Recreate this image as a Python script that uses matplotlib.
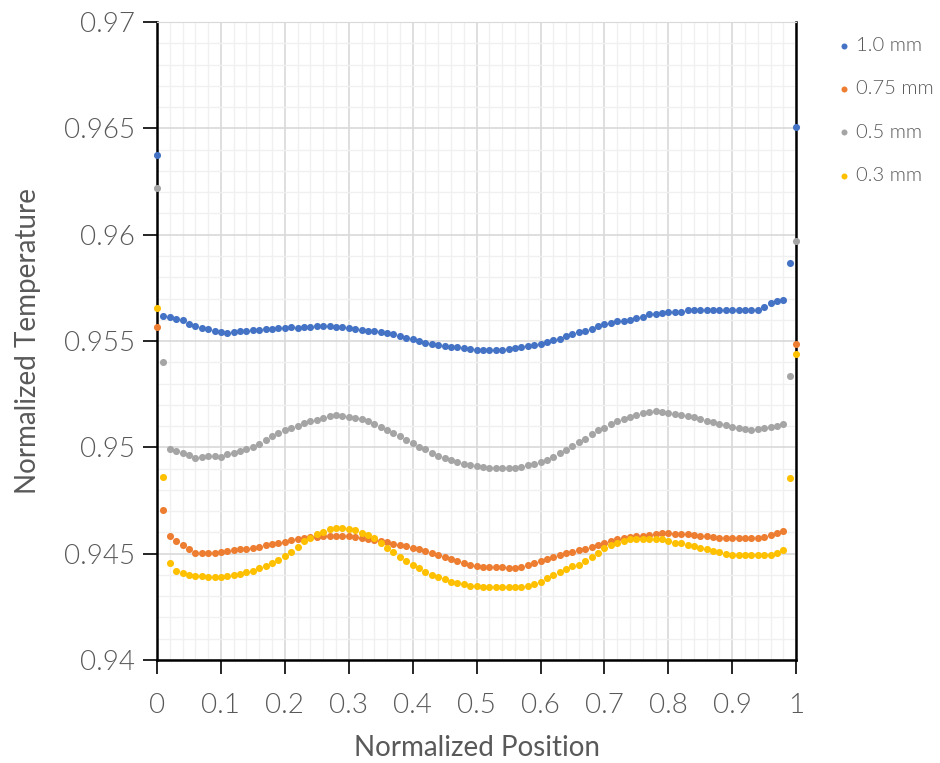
import numpy as np
import matplotlib.pyplot as plt
from matplotlib.ticker import MultipleLocator, FuncFormatter

# normalized position along the sample, 0 .. 1 in steps of 0.01
position = np.arange(101) / 100

temp_10mm = [
    0.96374,
    0.95620, 0.95613, 0.95605, 0.95597, 0.95580, 0.95570, 0.95563, 0.95556, 0.95549, 0.95543,
    0.95540, 0.95542, 0.95547, 0.95548, 0.95550, 0.95554, 0.95556, 0.95558, 0.95561, 0.95563,
    0.95565, 0.95563, 0.95564, 0.95568, 0.95570, 0.95571, 0.95571, 0.95568, 0.95564, 0.95561,
    0.95556, 0.95553, 0.95548, 0.95546, 0.95541, 0.95538, 0.95531, 0.95524, 0.95515, 0.95508,
    0.95500, 0.95493, 0.95486, 0.95481, 0.95477, 0.95473, 0.95470, 0.95466, 0.95464,
    0.95458, 0.95456, 0.95456, 0.95456, 0.95456, 0.95462, 0.95466, 0.95470, 0.95476, 0.95481,
    0.95487, 0.95495, 0.95503, 0.95510, 0.95522, 0.95534, 0.95541, 0.95549, 0.95558, 0.95571,
    0.95580, 0.95586, 0.95593, 0.95596, 0.95601, 0.95607, 0.95615, 0.95625, 0.95629, 0.95632,
    0.95637, 0.95637, 0.95636, 0.95645, 0.95645, 0.95645, 0.95645, 0.95645, 0.95645, 0.95645,
    0.95645, 0.95645, 0.95645, 0.95645, 0.95645, 0.95662, 0.95677, 0.95687, 0.95692,
    0.95865, 0.96505,
]

temp_075mm = [
    0.95565,
    0.94706, 0.94585, 0.94561, 0.94542, 0.94523, 0.94505, 0.94503, 0.94503, 0.94505, 0.94509,
    0.94512, 0.94517, 0.94521, 0.94523, 0.94526, 0.94532, 0.94540, 0.94546, 0.94549, 0.94556,
    0.94564, 0.94569, 0.94574, 0.94577, 0.94580, 0.94583, 0.94583, 0.94585, 0.94584, 0.94583,
    0.94580, 0.94576, 0.94571, 0.94566, 0.94559, 0.94553, 0.94547, 0.94541, 0.94535, 0.94528,
    0.94520, 0.94512, 0.94504, 0.94495, 0.94486, 0.94476, 0.94467, 0.94456, 0.94447,
    0.94443, 0.94439, 0.94439, 0.94439, 0.94436, 0.94432, 0.94431, 0.94437, 0.94445, 0.94455,
    0.94465, 0.94475, 0.94483, 0.94493, 0.94502, 0.94509, 0.94516, 0.94524, 0.94531, 0.94539,
    0.94550, 0.94559, 0.94569, 0.94574, 0.94580, 0.94582, 0.94584, 0.94587, 0.94591, 0.94596,
    0.94596, 0.94594, 0.94593, 0.94593, 0.94590, 0.94585, 0.94582, 0.94578, 0.94575, 0.94574,
    0.94573, 0.94572, 0.94573, 0.94574, 0.94575, 0.94580, 0.94589, 0.94598, 0.94608,
    np.nan, 0.95484,
]

temp_05mm = [
    0.96219,
    0.95400, 0.94990, 0.94982, 0.94974, 0.94966, 0.94952, 0.94954, 0.94958, 0.94958, 0.94957,
    0.94968, 0.94975, 0.94982, 0.94992, 0.95003, 0.95018, 0.95034, 0.95053, 0.95068, 0.95081,
    0.95093, 0.95101, 0.95114, 0.95122, 0.95131, 0.95139, 0.95147, 0.95150, 0.95146, 0.95142,
    0.95138, 0.95132, 0.95124, 0.95112, 0.95096, 0.95082, 0.95067, 0.95052, 0.95036, 0.95019,
    0.95004, 0.94990, 0.94974, 0.94960, 0.94949, 0.94940, 0.94932, 0.94922, 0.94915,
    0.94912, 0.94910, 0.94904, 0.94902, 0.94902, 0.94902, 0.94904, 0.94908, 0.94915, 0.94921,
    0.94930, 0.94942, 0.94957, 0.94972, 0.94988, 0.95005, 0.95024, 0.95041, 0.95064, 0.95081,
    0.95093, 0.95111, 0.95123, 0.95135, 0.95145, 0.95153, 0.95160, 0.95168, 0.95172, 0.95167,
    0.95162, 0.95157, 0.95154, 0.95148, 0.95141, 0.95134, 0.95126, 0.95119, 0.95111, 0.95103,
    0.95095, 0.95090, 0.95087, 0.95084, 0.95086, 0.95090, 0.95096, 0.95102, 0.95111,
    0.95337, 0.95969,
]

temp_03mm = [
    0.95654,
    0.94859, 0.94454, 0.94420, 0.94407, 0.94401, 0.94397, 0.94393, 0.94389, 0.94388, 0.94390,
    0.94394, 0.94398, 0.94405, 0.94412, 0.94419, 0.94431, 0.94444, 0.94457, 0.94472, 0.94487,
    0.94508, 0.94531, 0.94558, 0.94576, 0.94592, 0.94604, 0.94614, 0.94622, 0.94622, 0.94618,
    0.94613, 0.94599, 0.94588, 0.94575, 0.94550, 0.94529, 0.94509, 0.94484, 0.94464, 0.94449,
    0.94432, 0.94414, 0.94401, 0.94390, 0.94379, 0.94369, 0.94362, 0.94356, 0.94349,
    0.94348, 0.94341, 0.94341, 0.94341, 0.94341, 0.94341, 0.94341, 0.94344, 0.94350, 0.94356,
    0.94369, 0.94386, 0.94401, 0.94415, 0.94429, 0.94440, 0.94448, 0.94466, 0.94486, 0.94501,
    0.94527, 0.94540, 0.94550, 0.94560, 0.94567, 0.94569, 0.94569, 0.94569, 0.94569, 0.94567,
    0.94560, 0.94551, 0.94549, 0.94542, 0.94538, 0.94527, 0.94520, 0.94513, 0.94506, 0.94499,
    0.94495, 0.94494, 0.94494, 0.94494, 0.94494, 0.94494, 0.94496, 0.94501, 0.94519,
    0.94857, 0.95437,
]

series_labels = ["1.0 mm", "0.75 mm", "0.5 mm", "0.3 mm"]
series_colors = ["#4472c4", "#ed7d31", "#a5a5a5", "#ffc000"]

plt.rcParams['font.family'] = ['Lato', 'DejaVu Sans']
plt.rcParams['font.weight'] = 300
text_color = "#595959"

fig = plt.figure(figsize=(9.4, 7.63), dpi=100)
ax = fig.add_axes([0.167, 0.135, 0.68, 0.836])

for values, label, color in zip([temp_10mm, temp_075mm, temp_05mm, temp_03mm],
                                series_labels, series_colors):
    ax.scatter(position, values, s=26, color=color, label=label,
               linewidths=0, clip_on=False, zorder=4)

ax.set_xlim(0, 1)
ax.set_ylim(0.94, 0.97)

ax.xaxis.set_major_locator(MultipleLocator(0.1))
ax.xaxis.set_minor_locator(MultipleLocator(0.02))
ax.yaxis.set_major_locator(MultipleLocator(0.005))
ax.yaxis.set_minor_locator(MultipleLocator(0.001))


def short_number(v, pos):
    s = ("%.3f" % v).rstrip("0").rstrip(".")
    return s


ax.xaxis.set_major_formatter(FuncFormatter(short_number))
ax.yaxis.set_major_formatter(FuncFormatter(short_number))

ax.grid(which="major", color="#d9d9d9", linewidth=1.2, zorder=0)
ax.grid(which="minor", color="#f0f0f0", linewidth=1.0, zorder=0)
ax.set_axisbelow(True)

ax.tick_params(which="major", direction="out", length=10, width=1.2,
               color="black", labelsize=20, labelcolor=text_color)
ax.tick_params(axis="x", which="major", pad=14)
ax.tick_params(axis="y", which="major", pad=6)
ax.tick_params(which="minor", length=0)

for side in ["left", "bottom", "right"]:
    ax.spines[side].set_color("black")
    ax.spines[side].set_linewidth(1.8)
ax.spines["top"].set_color("#d9d9d9")

ax.set_xlabel("Normalized Position", fontsize=20, color=text_color, labelpad=12)
ax.set_ylabel("Normalized Temperature", fontsize=20, color=text_color, labelpad=16)

legend = fig.legend(loc="upper left", bbox_to_anchor=(0.876, 0.962), frameon=False,
                    fontsize=14.5, markerscale=0.85, handletextpad=0.0,
                    handlelength=1.2, labelspacing=1.3, borderaxespad=0)
for text in legend.get_texts():
    text.set_color(text_color)

fig.savefig("out.png", dpi=100)
